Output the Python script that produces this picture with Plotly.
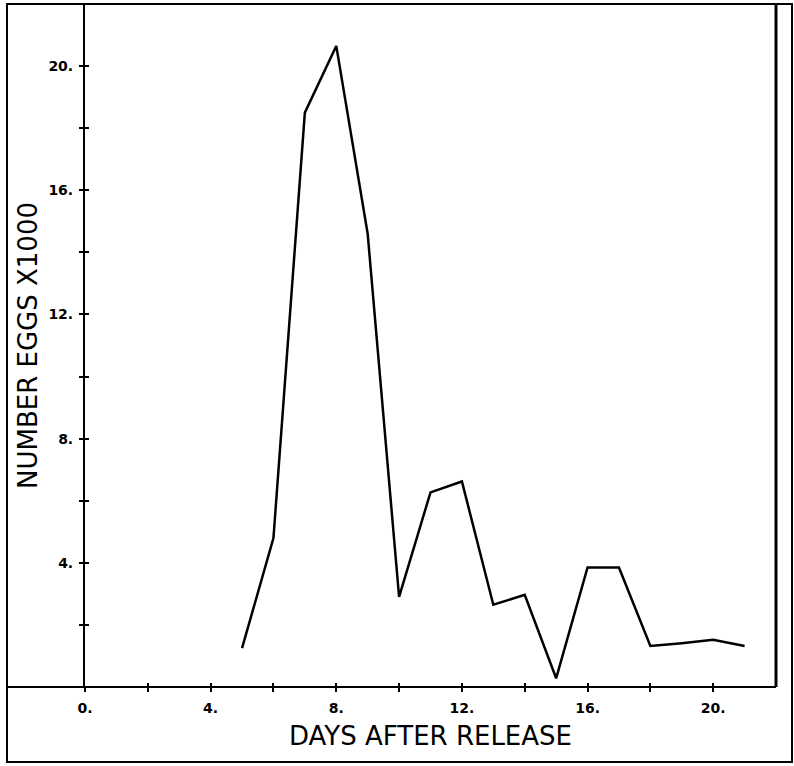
import plotly.graph_objects as go

days = [5, 6, 7, 8, 9, 10, 11, 12, 13, 14, 15, 16, 17, 18, 19, 20, 21]
eggs = [1.25, 4.8, 18.5, 20.65, 14.6, 2.9, 6.27, 6.62, 2.65, 2.97, 0.28, 3.85, 3.85, 1.32, 1.41, 1.52, 1.32]

x_tickvals = [0, 4, 8, 12, 16, 20]
x_ticktext = ["0.", "4.", "8.", "12.", "16.", "20."]
y_tickvals = [4, 8, 12, 16, 20]
y_ticktext = ["4.", "8.", "12.", "16.", "20."]

W, H = 794, 766
L, R, T, B = 85, 18, 4, 79
pw, ph = W - L - R, H - T - B

def px(x):
    return (x - L) / pw

def py(y):
    return (H - B - y) / ph

fig = go.Figure()
fig.add_trace(go.Scatter(x=days, y=eggs, mode="lines",
                         line=dict(color="black", width=2.5), showlegend=False))

tickfont = dict(family="DejaVu Sans", size=14, color="black", weight="bold")
titlefont = dict(family="DejaVu Sans", size=26, color="black")
fig.update_xaxes(range=[0, 22], showgrid=False, zeroline=False,
                 showline=False, tickmode="array", tickvals=x_tickvals, ticktext=x_ticktext,
                 ticks="outside", ticklen=4, tickwidth=2, tickcolor="black",
                 minor=dict(tickmode="array", tickvals=[2, 6, 10, 14, 18], ticks="outside",
                            ticklen=4, tickwidth=2, tickcolor="black"),
                 tickfont=tickfont, ticklabelstandoff=4,
                 title=dict(text="DAYS AFTER RELEASE", font=titlefont, standoff=12))
fig.update_yaxes(range=[0, 22], showgrid=False, zeroline=False,
                 showline=True, linecolor="black", linewidth=2,
                 tickmode="array", tickvals=y_tickvals, ticktext=y_ticktext,
                 ticks="outside", ticklen=4, tickwidth=2, tickcolor="black",
                 minor=dict(tickmode="array", tickvals=[2, 6, 10, 14, 18, 22], ticks="outside",
                            ticklen=4, tickwidth=2, tickcolor="black"),
                 tickfont=tickfont, ticklabelstandoff=3,
                 title=dict(text="NUMBER EGGS X1000", font=titlefont, standoff=3))

shapes = []
lw = dict(color="black", width=2)
# outer frame
shapes.append(dict(type="rect", xref="paper", yref="paper",
                   x0=px(7), x1=px(792), y0=py(762), y1=py(4), line=lw))
# x axis line extended to left border
shapes.append(dict(type="line", xref="paper", yref="paper",
                   x0=px(7), x1=px(776), y0=0, y1=0, line=lw))
# right inner line
shapes.append(dict(type="line", xref="paper", yref="paper",
                   x0=1, x1=1, y0=0, y1=1, line=dict(color="black", width=3)))
fig.update_layout(shapes=shapes)

fig.update_layout(width=W, height=H, margin=dict(l=L, r=R, t=T, b=B),
                  paper_bgcolor="white", plot_bgcolor="white")

# inside ticks via overlay axes
fig.update_layout(
    xaxis2=dict(overlaying="x", range=[0, 22], side="bottom", anchor="y", showgrid=False,
                zeroline=False, showticklabels=False, tickmode="array",
                tickvals=[2, 4, 6, 8, 10, 12, 14, 16, 18, 20],
                ticks="inside", ticklen=4, tickwidth=2, tickcolor="black"),
    yaxis2=dict(overlaying="y", range=[0, 22], side="left", anchor="x", showgrid=False,
                zeroline=False, showticklabels=False, tickmode="array",
                tickvals=[2, 4, 6, 8, 10, 12, 14, 16, 18, 20],
                ticks="inside", ticklen=4, tickwidth=2, tickcolor="black"),
)
fig.add_trace(go.Scatter(x=[None], y=[None], xaxis="x2", yaxis="y2", showlegend=False, hoverinfo="skip"))

fig.write_html("out.html")
